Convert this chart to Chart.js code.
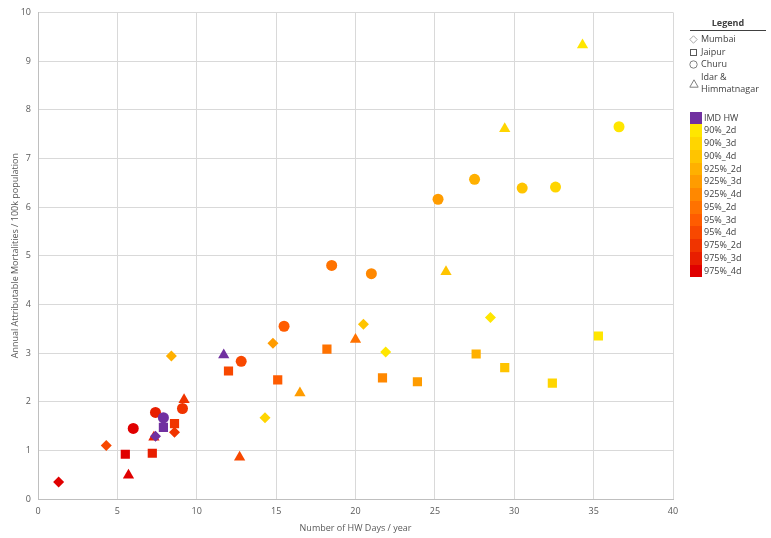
<!DOCTYPE html>
<html>
<head>
<meta charset="utf-8">
<script src="https://cdn.jsdelivr.net/npm/chart.js@4"></script>
<style>
  html, body { margin: 0; padding: 0; background: #fff; }
  #wrap { position: relative; width: 771px; height: 538px; }
  #legend { position: absolute; left: 684px; top: 16px; width: 86px; font-family: "Open Sans", sans-serif; font-size: 9px; color: #404040; }
  #legend .title { text-align: center; font-weight: bold; border-bottom: 1px solid #404040; padding-bottom: 1px; margin: 0 4px 2px 6px; height: 13px; line-height: 13px; }
  #legend .row { height: 12.5px; line-height: 12.5px; white-space: nowrap; position: relative; padding-left: 17px; }
  #legend .row svg { position: absolute; left: 5px; top: 2px; }
  #legend .sw { height: 12.75px; line-height: 12.75px; position: relative; padding-left: 20px; }
  #legend .sw span { position: absolute; left: 6px; top: 0; width: 12px; height: 12.75px; }
</style>
</head>
<body>
<div id="wrap">
  <canvas id="chart" width="771" height="538"></canvas>
  <div id="legend"></div>
</div>
<script>
const levels = ['IMD HW', '90%_2d', '90%_3d', '90%_4d', '925%_2d', '925%_3d', '925%_4d',
  '95%_2d', '95%_3d', '95%_4d', '975%_2d', '975%_3d', '975%_4d'];
const levelColors = ['#7030a0', '#ffe600', '#ffd500', '#ffc400', '#ffb000', '#ff9c00', '#ff8800',
  '#ff7200', '#ff5c00', '#f84800', '#f03400', '#e81e00', '#e00000'];

const mumbaiX = [1.3, 4.3, 8.4, 8.6, 7.4, 14.8, 14.3, 20.5, 21.9, 28.5];
const mumbaiY = [0.35, 1.10, 2.94, 1.37, 1.29, 3.20, 1.67, 3.59, 3.02, 3.73];
const mumbaiLevel = ['975%_4d', '95%_4d', '925%_2d', '975%_2d', 'IMD HW', '925%_3d', '90%_3d', '90%_4d', '90%_2d', '90%_2d'];

const jaipurX = [5.5, 7.2, 7.9, 8.6, 12.0, 15.1, 18.2, 21.7, 23.9, 27.6, 29.4, 32.4, 35.3];
const jaipurY = [0.92, 0.94, 1.47, 1.55, 2.63, 2.45, 3.08, 2.49, 2.41, 2.98, 2.70, 2.38, 3.35];
const jaipurLevel = ['975%_4d', '975%_3d', 'IMD HW', '975%_2d', '95%_4d', '95%_3d', '95%_2d', '925%_4d', '925%_3d', '925%_2d', '90%_4d', '90%_3d', '90%_2d'];

const churuX = [6.0, 7.4, 7.9, 9.1, 12.8, 15.5, 18.5, 21.0, 25.2, 27.5, 30.5, 32.6, 36.6];
const churuY = [1.45, 1.78, 1.67, 1.86, 2.83, 3.55, 4.80, 4.63, 6.16, 6.57, 6.39, 6.41, 7.65];
const churuLevel = ['975%_4d', '975%_3d', 'IMD HW', '975%_2d', '95%_4d', '95%_3d', '95%_2d', '925%_4d', '925%_3d', '925%_2d', '90%_4d', '90%_3d', '90%_2d'];

const idarX = [5.7, 7.3, 9.2, 11.7, 12.7, 16.5, 20.0, 25.7, 29.4, 34.3];
const idarY = [0.49, 1.27, 2.04, 2.96, 0.86, 2.18, 3.28, 4.67, 7.61, 9.33];
const idarLevel = ['975%_4d', '975%_3d', '975%_2d', 'IMD HW', '95%_4d', '925%_3d', '95%_2d', '90%_4d', '90%_3d', '90%_2d'];

const xTicks = [0, 5, 10, 15, 20, 25, 30, 35, 40];
const yTicks = [0, 1, 2, 3, 4, 5, 6, 7, 8, 9, 10];

function pts(xs, ys) {
  return xs.map((x, i) => ({ x: x, y: ys[i] }));
}
function cols(lv) {
  return lv.map(l => levelColors[levels.indexOf(l)]);
}

function set(label, xs, ys, lv, style, r) {
  return {
    label: label,
    data: pts(xs, ys),
    pointStyle: style,
    pointRadius: r,
    pointHoverRadius: r + 1,
    pointBackgroundColor: cols(lv),
    pointBorderColor: cols(lv),
    pointBorderWidth: 0
  };
}

const gridColor = '#d9d9d9';
const tickFont = { family: 'Open Sans', size: 9 };

new Chart(document.getElementById('chart'), {
  type: 'scatter',
  data: {
    datasets: [
      set('Mumbai', mumbaiX, mumbaiY, mumbaiLevel, 'rectRot', 5.5),
      set('Jaipur', jaipurX, jaipurY, jaipurLevel, 'rect', 6.5),
      set('Churu', churuX, churuY, churuLevel, 'circle', 5.5),
      set('Idar & Himmatnagar', idarX, idarY, idarLevel, 'triangle', 6.5)
    ]
  },
  options: {
    responsive: false,
    animation: false,
    layout: { padding: { top: 9, right: 98, left: 0, bottom: 0 } },
    plugins: {
      legend: { display: false },
      tooltip: { enabled: true }
    },
    scales: {
      x: {
        type: 'linear',
        min: 0,
        max: 40,
        afterFit: s => { s.height = 39; },
        afterBuildTicks: s => { s.ticks = xTicks.map(v => ({ value: v })); },
        grid: { color: gridColor, drawTicks: false },
        border: { color: '#bfbfbf' },
        ticks: { color: '#595959', font: tickFont, padding: 7 },
        title: { display: true, text: 'Number of HW Days / year', color: '#595959', font: tickFont }
      },
      y: {
        type: 'linear',
        min: 0,
        max: 10,
        afterFit: s => { s.width = 38; },
        afterBuildTicks: s => { s.ticks = yTicks.map(v => ({ value: v })); },
        grid: { color: gridColor, drawTicks: false },
        border: { color: '#bfbfbf' },
        ticks: { color: '#595959', font: tickFont, padding: 7 },
        title: { display: true, text: 'Annual Attributable Mortalities / 100k population', color: '#595959', font: tickFont, padding: { top: 10, bottom: 4 } }
      }
    }
  }
});

// legend
const shapeIcons = {
  'Mumbai': '<svg width="9" height="9"><polygon points="4.5,0.8 8.2,4.5 4.5,8.2 0.8,4.5" fill="none" stroke="#a6a6a6" stroke-width="1"/></svg>',
  'Jaipur': '<svg width="9" height="9"><rect x="1.5" y="1.5" width="6" height="6" fill="none" stroke="#595959" stroke-width="1"/></svg>',
  'Churu': '<svg width="9" height="9"><circle cx="4.5" cy="4.5" r="3.7" fill="none" stroke="#808080" stroke-width="1"/></svg>'
};
const lg = document.getElementById('legend');
let html = '<div class="title">Legend</div>';
html += '<div class="row">' + shapeIcons['Mumbai'] + 'Mumbai</div>';
html += '<div class="row">' + shapeIcons['Jaipur'] + 'Jaipur</div>';
html += '<div class="row">' + shapeIcons['Churu'] + 'Churu</div>';
html += '<div class="row" style="height:25px"><svg width="10" height="9" style="top:8px"><polygon points="5,0.8 9.2,8.2 0.8,8.2" fill="none" stroke="#808080" stroke-width="1"/></svg>Idar &amp;<br>Himmatnagar</div>';
html += '<div style="height:16px"></div>';
levels.forEach((l, i) => {
  html += '<div class="sw"><span style="background:' + levelColors[i] + '"></span>' + l + '</div>';
});
lg.innerHTML = html;
</script>
</body>
</html>
